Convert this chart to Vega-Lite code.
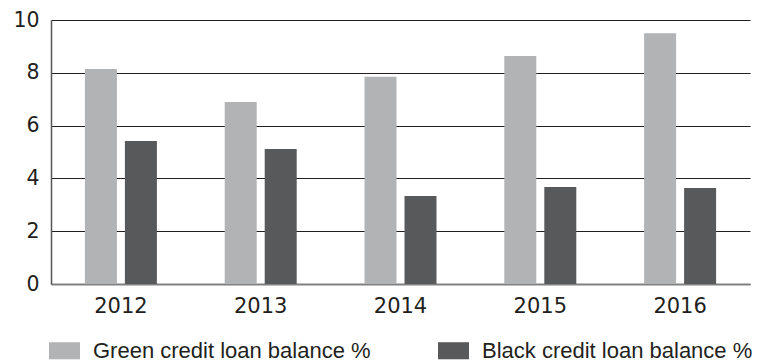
{
  "$schema": "https://vega.github.io/schema/vega-lite/v6.json",
  "autosize": "none",
  "width": 699,
  "height": 264,
  "padding": {"left": 51, "top": 20, "right": 8, "bottom": 78},
  "background": "white",
  "data": {
    "values": [
      {"year": "2012", "series": "Green credit loan balance %", "value": 8.14},
      {"year": "2012", "series": "Black credit loan balance %", "value": 5.42},
      {"year": "2013", "series": "Green credit loan balance %", "value": 6.89},
      {"year": "2013", "series": "Black credit loan balance %", "value": 5.11},
      {"year": "2014", "series": "Green credit loan balance %", "value": 7.85},
      {"year": "2014", "series": "Black credit loan balance %", "value": 3.33},
      {"year": "2015", "series": "Green credit loan balance %", "value": 8.64},
      {"year": "2015", "series": "Black credit loan balance %", "value": 3.67},
      {"year": "2016", "series": "Green credit loan balance %", "value": 9.5},
      {"year": "2016", "series": "Black credit loan balance %", "value": 3.64}
    ]
  },
  "mark": {"type": "bar"},
  "encoding": {
    "x": {
      "field": "year",
      "type": "nominal",
      "scale": {"paddingInner": 0.485, "paddingOuter": 0.2425},
      "axis": {
        "title": null,
        "labelAngle": 0,
        "labelFont": "DejaVu Sans",
        "labelFontSize": 21,
        "labelColor": "#231f20",
        "labelPadding": 11,
        "ticks": false,
        "domainColor": "#808080",
        "domainWidth": 2
      }
    },
    "xOffset": {
      "field": "series",
      "type": "nominal",
      "sort": ["Green credit loan balance %", "Black credit loan balance %"],
      "scale": {"paddingInner": 0.2, "paddingOuter": 0}
    },
    "y": {
      "field": "value",
      "type": "quantitative",
      "scale": {"domain": [0, 10], "nice": false},
      "axis": {
        "title": null,
        "values": [0, 2, 4, 6, 8, 10],
        "labelFont": "DejaVu Sans",
        "labelFontSize": 20.5,
        "labelColor": "#231f20",
        "labelPadding": 12,
        "ticks": false,
        "domainColor": "#555555",
        "domainWidth": 1.5,
        "grid": true,
        "gridColor": "#231f20",
        "gridWidth": 1.2
      }
    },
    "color": {
      "field": "series",
      "type": "nominal",
      "sort": ["Green credit loan balance %", "Black credit loan balance %"],
      "scale": {
        "domain": ["Green credit loan balance %", "Black credit loan balance %"],
        "range": ["#b1b3b5", "#58595b"]
      },
      "legend": {
        "title": null,
        "orient": "none",
        "legendX": -2,
        "legendY": 315,
        "direction": "horizontal",
        "columns": 2,
        "columnPadding": 67,
        "padding": 0,
        "symbolType": "M-1,-0.55H1V0.55H-1Z",
        "symbolSize": 961,
        "symbolStrokeWidth": 0,
        "symbolOpacity": 1,
        "labelOffset": 13,
        "labelFont": "Liberation Sans",
        "labelFontSize": 22,
        "labelColor": "#231f20",
        "labelLimit": 400
      }
    }
  },
  "config": {
    "view": {"stroke": null},
    "axis": {"gridOpacity": 1}
  }
}
